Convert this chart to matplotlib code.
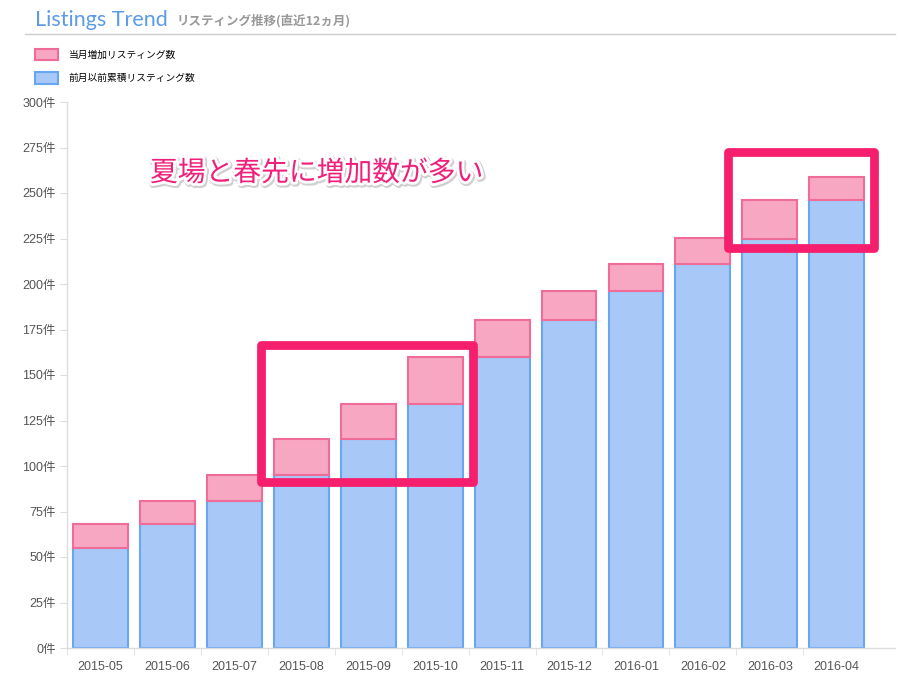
import matplotlib
matplotlib.use('Agg')
import matplotlib.pyplot as plt
import matplotlib.patheffects as pe
from matplotlib.patches import Rectangle
import numpy as np

plt.rcParams['font.family'] = ['Liberation Sans', 'Noto Sans CJK JP', 'DejaVu Sans']
JP = ['Noto Sans CJK JP', 'DejaVu Sans']

# data
months = ['2015-05', '2015-06', '2015-07', '2015-08', '2015-09', '2015-10',
          '2015-11', '2015-12', '2016-01', '2016-02', '2016-03', '2016-04']
previous_total = [55, 68, 81, 95, 115, 134, 160, 180, 196, 211, 225, 246]
added = [13, 13, 14, 20, 19, 26, 20, 16, 15, 14, 21, 13]
yticks = list(range(0, 301, 25))
label_added = '当月増加リスティング数'
label_prev = '前月以前累積リスティング数'
note = '夏場と春先に増加数が多い'

W, H = 910, 676
fig = plt.figure(figsize=(W / 100, H / 100), dpi=100)
ax = fig.add_axes([67 / W, (H - 648) / H, (895 - 67) / W, (648 - 102) / H])

x = np.arange(len(months))
ax.bar(x, previous_total, width=0.82, color='#a8c9f7', edgecolor='#6aa5f2',
       linewidth=1.5, label=label_prev)
ax.bar(x, added, bottom=previous_total, width=0.82, color='#f7a7c1',
       edgecolor='#f06c98', linewidth=1.5, label=label_added)

ax.set_xlim(-0.5, 11.87)
ax.set_ylim(0, 300)
ax.set_yticks(yticks)
ax.set_yticklabels(['%d件' % v for v in yticks])
ax.set_xticks(x)
ax.set_xticklabels(months)
ax.set_xticks(np.arange(-0.5, 11, 1), minor=True)
ax.tick_params(axis='x', which='major', length=0, pad=9)
ax.tick_params(axis='x', which='minor', length=5, color='#dddddd')
ax.tick_params(axis='y', length=5, color='#dddddd', pad=3)
ax.tick_params(labelsize=9, labelcolor='#555555')
for s in ['top', 'right']:
    ax.spines[s].set_visible(False)
for s in ['left', 'bottom']:
    ax.spines[s].set_color('#dddddd')
    ax.spines[s].set_linewidth(1)

# title and rule
fig.text(35 / W, 1 - 20 / H, 'Listings Trend', family=['Lato', 'DejaVu Sans'],
         fontsize=15.5, color='#5b9be8', va='center')
fig.text(177 / W, 1 - 21 / H, 'リスティング推移(直近12ヵ月)', family=JP,
         fontsize=9, color='#999999', fontweight='bold', va='center')
fig.add_artist(plt.Line2D([25 / W, 895 / W], [1 - 34 / H, 1 - 34 / H],
                          color='#cccccc', linewidth=1))

# legend
handles, labels = ax.get_legend_handles_labels()
leg = fig.legend(handles[::-1], labels[::-1], loc='upper left',
                 bbox_to_anchor=(31 / W, 1 - 45 / H), frameon=False,
                 handlelength=2.4, handleheight=1.4, labelspacing=1.25,
                 handletextpad=1.1, borderaxespad=0, prop={'family': JP, 'size': 7})

# annotation text
ax.text(0.74, 261, note, family=JP, fontsize=20, color='#f0207a', va='center',
        path_effects=[pe.Stroke(linewidth=5, foreground='#d0d0d0', offset=(0.8, -1)),
                      pe.Stroke(linewidth=4, foreground='white'),
                      pe.Normal()])

# highlight boxes
for (x0, x1, y0, y1) in [(2.40, 5.56, 91.2, 166.5), (9.37, 11.56, 219.8, 272.5)]:
    ax.add_patch(Rectangle((x0, y0), x1 - x0, y1 - y0, fill=False,
                           edgecolor='#f51f6e', linewidth=6.3,
                           joinstyle='round', clip_on=False, zorder=5))

fig.savefig('out.png', dpi=100)
